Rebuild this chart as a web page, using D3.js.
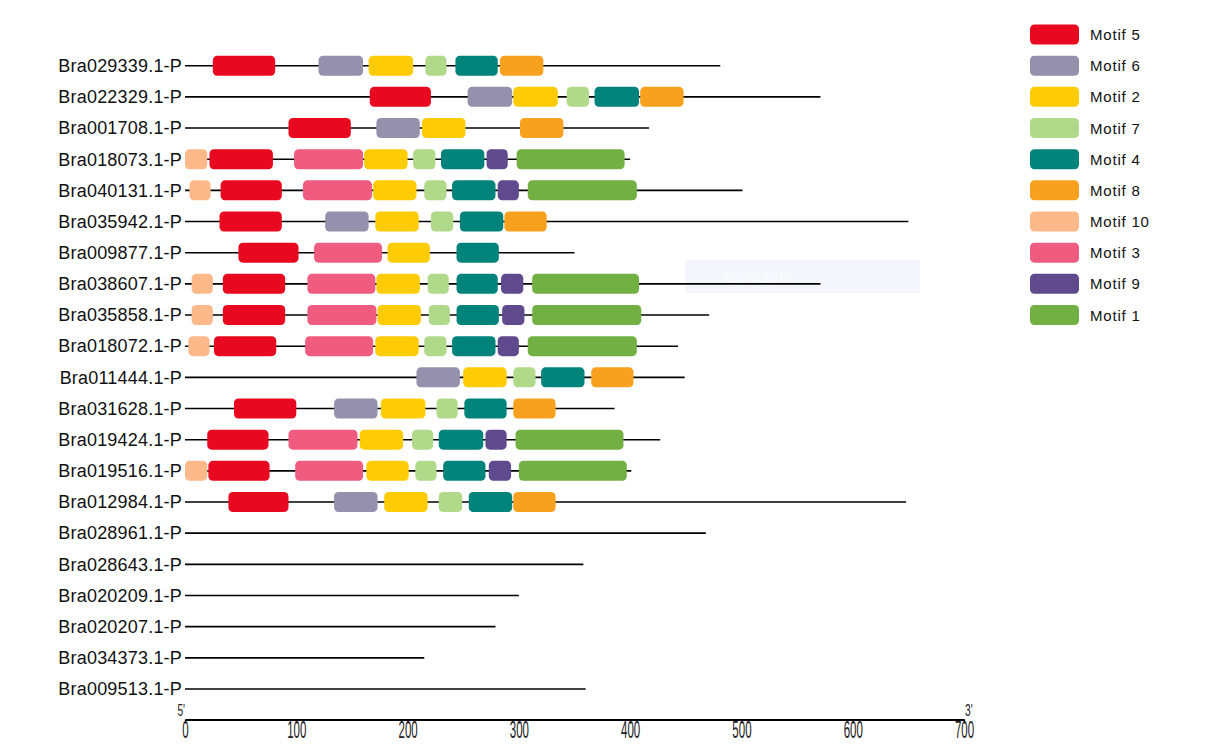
<!DOCTYPE html>
<html>
<head>
<meta charset="utf-8">
<script src="https://cdn.jsdelivr.net/npm/d3@7"></script>
<style>
  body { margin: 0; background: #fff; }
  text { font-family: "Liberation Sans", Arial, sans-serif; }
</style>
</head>
<body>
<div id="chart"></div>
<script>
/**
 * DATA
 * */
const genes = [
  "Bra029339.1-P", "Bra022329.1-P", "Bra001708.1-P", "Bra018073.1-P", "Bra040131.1-P",
  "Bra035942.1-P", "Bra009877.1-P", "Bra038607.1-P", "Bra035858.1-P", "Bra018072.1-P",
  "Bra011444.1-P", "Bra031628.1-P", "Bra019424.1-P", "Bra019516.1-P", "Bra012984.1-P",
  "Bra028961.1-P", "Bra028643.1-P", "Bra020209.1-P", "Bra020207.1-P", "Bra034373.1-P",
  "Bra009513.1-P"
];

// protein lengths (aa)
const lengths = [481, 571, 417, 400, 501, 650, 350, 571, 471, 443, 449, 386, 427, 401, 648, 468, 358, 300, 279, 215, 360];

// motif hits per gene: [motif number, start, end]
const hits = [
  [[5, 25, 81], [6, 120, 160], [2, 165, 205], [7, 216, 235], [4, 243, 281], [8, 283, 322]],
  [[5, 166, 221], [6, 254, 294], [2, 295, 335], [7, 343, 363], [4, 368, 408], [8, 409, 448]],
  [[5, 93, 149], [6, 172, 211], [2, 213, 252], [8, 301, 340]],
  [[10, 0, 20], [5, 22, 79], [3, 98, 160], [2, 161, 200], [7, 205, 225], [4, 230, 269], [9, 271, 290], [1, 298, 395]],
  [[10, 4, 23], [5, 32, 87], [3, 106, 168], [2, 169, 208], [7, 215, 235], [4, 240, 279], [9, 281, 300], [1, 308, 406]],
  [[5, 31, 87], [6, 126, 165], [2, 171, 210], [7, 221, 241], [4, 247, 286], [8, 287, 325]],
  [[5, 48, 102], [3, 116, 177], [2, 182, 220], [4, 244, 282]],
  [[10, 6, 25], [5, 34, 90], [3, 110, 171], [2, 172, 211], [7, 218, 237], [4, 244, 281], [9, 284, 304], [1, 312, 408]],
  [[10, 6, 25], [5, 34, 90], [3, 110, 172], [2, 173, 212], [7, 219, 238], [4, 244, 282], [9, 285, 305], [1, 312, 410]],
  [[10, 3, 22], [5, 26, 82], [3, 108, 169], [2, 171, 210], [7, 215, 235], [4, 240, 279], [9, 281, 300], [1, 308, 406]],
  [[6, 208, 247], [2, 250, 289], [7, 295, 315], [4, 320, 359], [8, 365, 403]],
  [[5, 44, 100], [6, 134, 173], [2, 176, 216], [7, 226, 245], [4, 251, 289], [8, 295, 333]],
  [[5, 20, 75], [3, 93, 155], [2, 157, 196], [7, 204, 223], [4, 228, 268], [9, 270, 289], [1, 297, 394]],
  [[10, 0, 20], [5, 21, 76], [3, 99, 160], [2, 163, 201], [7, 207, 226], [4, 232, 270], [9, 273, 293], [1, 300, 397]],
  [[5, 39, 93], [6, 134, 173], [2, 179, 218], [7, 228, 249], [4, 255, 294], [8, 295, 333]],
  [], [], [], [], [], []
];

// legend order
const motifs = [5, 6, 2, 7, 4, 8, 10, 3, 9, 1];
const motifColors = ["#e8081f", "#9590ac", "#fecc05", "#b1d98a", "#00837a",
                     "#f8a11e", "#fdb98a", "#ef5c80", "#5e4a8c", "#72b043"];

const axisTicks = [0, 100, 200, 300, 400, 500, 600, 700];

/**
 * CONSTANTS
 * */
const width = 1215,
  height = 752;

const svg = d3.select("#chart")
  .append("svg")
  .attr("width", width)
  .attr("height", height);

// SCALES
const xScale = d3.scaleLinear().domain([0, 700]).range([185, 964]);
const yScale = d3.scaleLinear().domain([0, genes.length - 1]).range([65.7, 689]);
const color = d3.scaleOrdinal().domain(motifs).range(motifColors);

// faint screenshot-tool overlay seen in the original
const overlay = svg.append("g");
overlay.append("rect")
  .attr("x", 685).attr("y", 260).attr("width", 235).attr("height", 33)
  .attr("fill", "#f4f6fc");
overlay.append("text")
  .attr("x", 723).attr("y", 281)
  .attr("font-size", 13)
  .attr("fill", "#fbfcff")
  .text("矩形截图(R)");

// ROWS
const rows = svg.selectAll(".gene")
  .data(genes)
  .join("g")
  .attr("class", "gene")
  .attr("transform", (d, i) => `translate(0,${yScale(i)})`);

rows.append("line")
  .attr("x1", xScale(0))
  .attr("x2", (d, i) => xScale(lengths[i]))
  .attr("stroke", "#000")
  .attr("stroke-width", 1.6);

rows.append("text")
  .attr("x", 182)
  .attr("dy", 6.3)
  .attr("text-anchor", "end")
  .attr("font-size", 18)
  .attr("letter-spacing", 0.2)
  .attr("fill", "#111")
  .text(d => d);

rows.selectAll(".motif")
  .data((d, i) => hits[i])
  .join("rect")
  .attr("class", "motif")
  .attr("x", d => xScale(d[1]))
  .attr("y", -10)
  .attr("width", d => xScale(d[2]) - xScale(d[1]))
  .attr("height", 20)
  .attr("rx", 4.5)
  .attr("fill", d => color(d[0]));

// AXIS
const xAxis = d3.axisBottom(xScale)
  .tickValues(axisTicks)
  .tickSize(4)
  .tickSizeOuter(0)
  .tickFormat(d3.format("d"));

const ax = svg.append("g")
  .attr("transform", "translate(0,719.5)")
  .call(xAxis);

ax.select(".domain").attr("stroke", "#000").attr("stroke-width", 2);
ax.selectAll(".tick line").attr("stroke", "#000").attr("stroke-width", 1.2);
ax.selectAll(".tick text")
  .attr("y", 0)
  .attr("dy", 18)
  .attr("font-size", 23)
  .attr("font-family", "'Liberation Sans', Arial, sans-serif")
  .attr("fill", "#222")
  .attr("transform", "scale(0.5,1)");

svg.append("text")
  .attr("transform", `translate(${xScale(0)},716) scale(0.6,1)`)
  .attr("text-anchor", "end")
  .attr("font-size", 17)
  .attr("fill", "#222")
  .text("5'");

svg.append("text")
  .attr("transform", `translate(${xScale(700) + 1},716) scale(0.6,1)`)
  .attr("text-anchor", "start")
  .attr("font-size", 17)
  .attr("fill", "#222")
  .text("3'");

// LEGEND
const legend = svg.selectAll(".legend")
  .data(motifs)
  .join("g")
  .attr("class", "legend")
  .attr("transform", (d, i) => `translate(1030,${yScale(i - 1)})`);

legend.append("rect")
  .attr("y", -10)
  .attr("width", 49)
  .attr("height", 20)
  .attr("rx", 4.5)
  .attr("fill", d => color(d));

legend.append("text")
  .attr("x", 60)
  .attr("dy", 5.5)
  .attr("font-size", 15)
  .attr("letter-spacing", 0.8)
  .attr("fill", "#111")
  .text(d => `Motif ${d}`);
</script>
</body>
</html>
